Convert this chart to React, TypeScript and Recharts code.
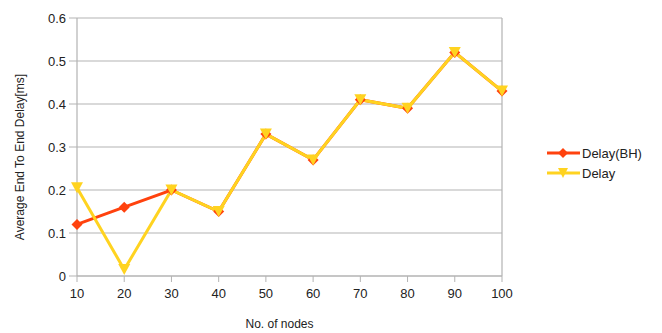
import React from 'react';
import { LineChart, Line, XAxis, YAxis, CartesianGrid, ReferenceLine } from 'recharts';

const categories = ['10', '20', '30', '40', '50', '60', '70', '80', '90', '100'];
const delayBH = [0.12, 0.16, 0.2, 0.15, 0.33, 0.27, 0.41, 0.39, 0.52, 0.43];
const delay = [0.205, 0.015, 0.2, 0.15, 0.33, 0.27, 0.41, 0.39, 0.52, 0.43];
const yTicks = [0, 0.1, 0.2, 0.3, 0.4, 0.5, 0.6];

const data = categories.map((c, i) => ({ name: c, bh: delayBH[i], d: delay[i] }));

const RED = '#ff420e';
const YEL = '#ffd320';
const GRID = '#b3b3b3';
const FONT = '"Liberation Sans", Arial, sans-serif';

const Diamond = (props: any) => {
  const { cx, cy, index } = props;
  if (cx == null || cy == null) return null;
  const r = 5.5;
  return <path key={index} d={`M${cx},${cy - r}L${cx + r},${cy}L${cx},${cy + r}L${cx - r},${cy}Z`} fill={RED} />;
};

const Tri = (props: any) => {
  const { cx, cy, index } = props;
  if (cx == null || cy == null) return null;
  const w = 6, h = 5.5;
  return <path key={index} d={`M${cx - w},${cy - h}L${cx + w},${cy - h}L${cx},${cy + h}Z`} fill={YEL} />;
};

const LegendBox = () => (
  <div style={{ position: 'absolute', left: 547, top: 143, fontFamily: FONT, fontSize: 13, color: '#222' }}>
    <div style={{ display: 'flex', alignItems: 'center', height: 20 }}>
      <svg width={35} height={12}>
        <line x1={0} y1={6} x2={33} y2={6} stroke={RED} strokeWidth={3} />
        <path d="M16,1L21,6L16,11L11,6Z" fill={RED} />
      </svg>
      <span>Delay(BH)</span>
    </div>
    <div style={{ display: 'flex', alignItems: 'center', height: 20 }}>
      <svg width={35} height={12}>
        <line x1={0} y1={6} x2={33} y2={6} stroke={YEL} strokeWidth={3} />
        <path d="M11,1L21,1L16,11Z" fill={YEL} />
      </svg>
      <span>Delay</span>
    </div>
  </div>
);

export default function App() {
  return (
    <div style={{ position: 'absolute', left: 0, top: 0, width: 662, height: 333, background: '#fff' }}>
      <LineChart width={662} height={333} data={data} margin={{ top: 18, right: 160, bottom: 0, left: 0 }}>
        <CartesianGrid vertical={false} stroke={GRID} strokeWidth={1.2} />
        <XAxis
          dataKey="name"
          height={57}
          stroke={GRID}
          tickSize={6}
          tickMargin={7}
          tick={{ fill: '#222', fontSize: 13, fontFamily: FONT }}
          tickLine={{ stroke: GRID }}
          axisLine={{ stroke: GRID, strokeWidth: 1.2 }}
          label={{ value: 'No. of nodes', position: 'insideBottom', offset: 5, dx: -10, fill: '#222', fontSize: 12, fontFamily: FONT }}
        />
        <YAxis
          width={77}
          domain={[0, 0.6]}
          ticks={yTicks}
          tickSize={8}
          tickMargin={3}
          tick={{ fill: '#222', fontSize: 13, fontFamily: FONT }}
          tickLine={{ stroke: GRID }}
          axisLine={{ stroke: GRID, strokeWidth: 1.2 }}
          label={{ value: 'Average End To End Delay[ms]', angle: -90, position: 'insideLeft', offset: 20, dy: 10, style: { textAnchor: 'middle' }, fill: '#222', fontSize: 12, fontFamily: FONT }}
        />
        <ReferenceLine x="100" stroke={GRID} strokeWidth={1.2} />
        <Line dataKey="bh" stroke={RED} strokeWidth={3} dot={<Diamond />} isAnimationActive={false} />
        <Line dataKey="d" stroke={YEL} strokeWidth={3} dot={<Tri />} isAnimationActive={false} />
      </LineChart>
      <LegendBox />
    </div>
  );
}
